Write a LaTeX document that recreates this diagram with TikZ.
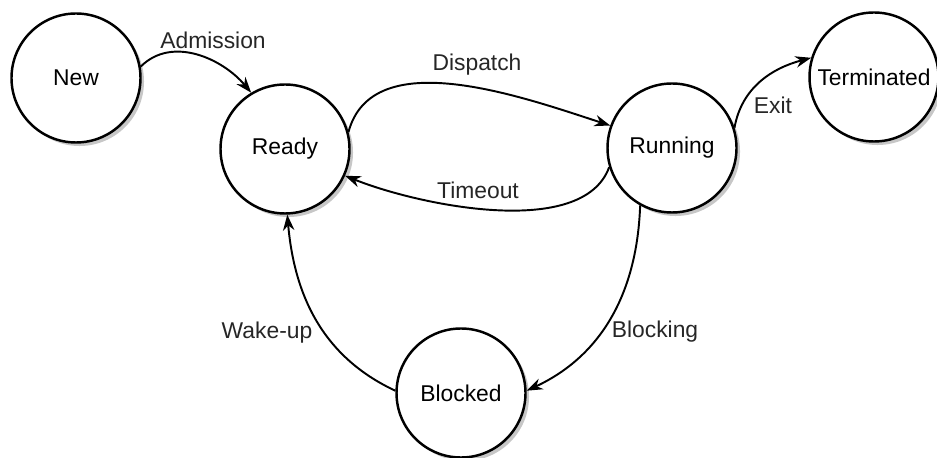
\documentclass[tikz,border=0pt]{standalone}
\usepackage{fontspec}
\setmainfont{Liberation Sans}
\usetikzlibrary{arrows.meta, shadows}

\begin{document}
\begin{tikzpicture}[
      st/.style={circle, draw, line width=1.4pt, fill=white, minimum size=2.58cm, inner sep=0pt,
        font=\fontsize{13}{15}\selectfont,
        drop shadow={shadow xshift=2pt, shadow yshift=-2pt, fill=black!22, opacity=1}},
      tr/.style={line width=1.1pt, -{Stealth[length=9pt, width=6.5pt]}},
      lab/.style={font=\fontsize{13}{15}\selectfont, text=black!85},
    ]
      \useasboundingbox (0,0) rectangle (18.74,-9.16);
      \node[st] (new) at (1.52,-1.56) {New};
      \node[st] (ready) at (5.70,-2.98) {Ready};
      \node[st] (running) at (13.44,-2.96) {Running};
      \node[st] (term) at (17.48,-1.54) {Terminated};
      \node[st] (blocked) at (9.22,-7.86) {Blocked};
      \draw[tr] (new.10) to[out=45, in=130] (ready.121);
      \draw[tr] (ready.15) to[out=75, in=162, looseness=0.9] (running.160);
      \draw[tr] (running.197) to[out=-110, in=-22, looseness=0.75] (ready.-24);
      \draw[tr] (running.18) to[out=80, in=195] (term.163);
      \draw[tr] (running.-119) to[out=-92, in=25] (blocked.2);
      \draw[tr] (blocked.178) to[out=155, in=-85] (ready.-88);
      \node[lab] at (4.26,-0.80) {Admission};
      \node[lab] at (9.54,-1.30) {Dispatch};
      \node[lab] at (9.56,-3.80) {Timeout};
      \node[lab] at (15.46,-2.10) {Exit};
      \node[lab] at (13.10,-6.64) {Blocking};
      \node[lab] at (5.34,-6.66) {Wake-up};
    \end{tikzpicture}
\end{document}
